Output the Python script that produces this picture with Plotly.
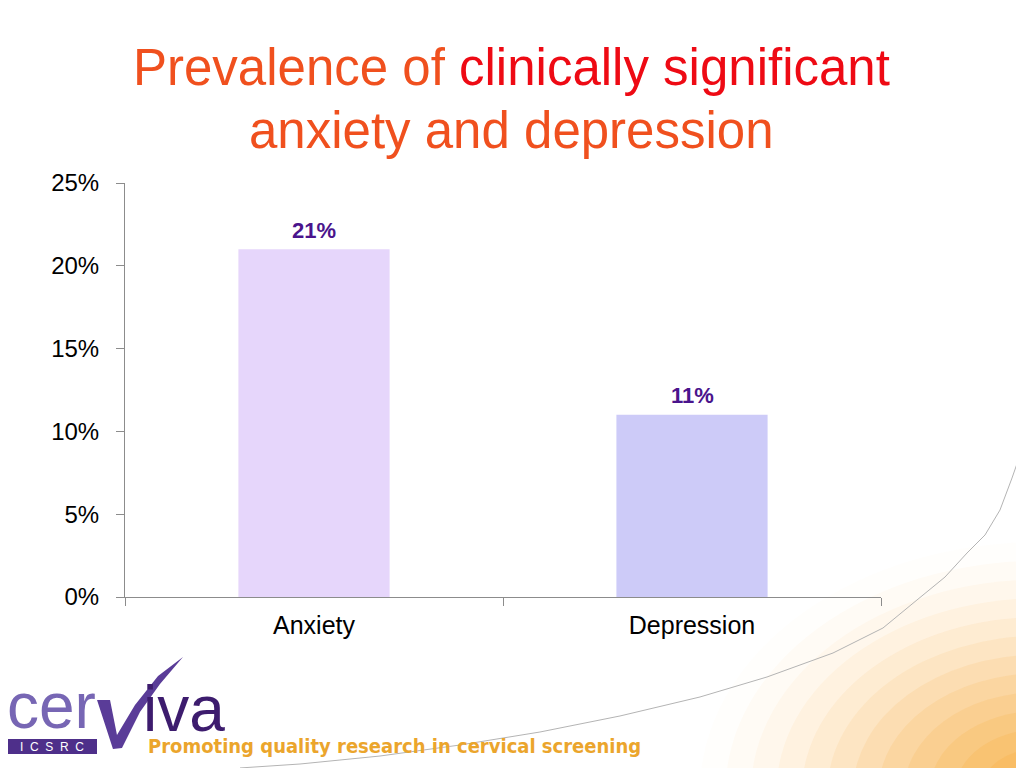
import plotly.graph_objects as go

categories = ["Anxiety", "Depression"]
prevalence = [0.21, 0.11]
bar_colors = ["#E6D6FB", "#CDCBF8"]
tick_values = [0, 0.05, 0.10, 0.15, 0.20, 0.25]

W, H = 1024, 768
OFF = 8  # the page body adds an 8px offset
L, R, T, B = 125, 881, 183, 597  # plot area in page pixels


def px(x):
    return (x - L) / (R - L)


def py(y):
    return (B - y) / (B - T)


def path(points, close=True):
    s = "M " + " L ".join(f"{px(x):.4f},{py(y):.4f}" for x, y in points)
    return s + (" Z" if close else "")


fig = go.Figure(
    go.Bar(
        x=categories,
        y=prevalence,
        marker=dict(color=bar_colors, line=dict(width=0)),
        width=0.4,
        hoverinfo="x+y",
    )
)

shapes = []
# soft orange glow in the lower right corner, built from stacked ellipses
for i in range(12):
    k = 1 - i * 0.075
    shapes.append(dict(type="circle", xref="paper", yref="paper",
                       x0=px(1040 - 340 * k), x1=px(1040 + 340 * k),
                       y0=py(792 - 250 * k), y1=py(792 + 250 * k),
                       fillcolor="#F7A52A", opacity=0.015 + 0.015 * i,
                       line=dict(width=0), layer="below"))
curve = [(1026, 438), (1012, 478), (1000, 510), (985, 535), (967, 553), (945, 577), (917, 600),
         (883, 628), (833, 653), (767, 677), (700, 697), (620, 716), (540, 732), (460, 745),
         (380, 756), (300, 764), (240, 768)]
shapes.append(dict(type="path", xref="paper", yref="paper", path=path(curve, close=False),
                   line=dict(color="#B4B4B4", width=1), layer="below"))

# logo: check mark swoosh and ICSRC box
shapes.append(dict(type="path", xref="paper", yref="paper",
                   path=path([(97, 700), (110, 700), (117, 735), (135, 705), (158, 676), (183, 657),
                              (160, 684), (140, 712), (122, 748), (113, 749)]),
                   fillcolor="#5A3C98", line=dict(width=0)))
shapes.append(dict(type="rect", xref="paper", yref="paper",
                   x0=px(8), x1=px(97), y0=py(754), y1=py(739),
                   fillcolor="#4E2F8A", line=dict(width=0)))

annotations = [
    dict(text="<span style='color:#F0501E'>Prevalence of </span>"
              "<span style='color:#EE0A14'>clinically significant</span>",
         x=px(512), y=py(67), xanchor="center", yanchor="middle",
         font=dict(family="Liberation Sans, Arial", size=51)),
    dict(text="anxiety and depression", x=px(512), y=py(130), xanchor="center", yanchor="middle",
         font=dict(family="Liberation Sans, Arial", size=51, color="#F0501E")),
    dict(text="cer", x=px(5), y=py(706), xanchor="left", yanchor="middle",
         font=dict(family="Liberation Sans, Arial", size=64, color="#7766B4")),
    dict(text="iva", x=px(141), y=py(709), xanchor="left", yanchor="middle",
         font=dict(family="Liberation Sans, Arial", size=64, color="#3D1C6E")),
    dict(text="I  C  S  R  C", x=px(52), y=py(747), xanchor="center", yanchor="middle",
         font=dict(family="Liberation Sans, Arial", size=12, color="white")),
    dict(text="<b>Promoting quality research in cervical screening</b>", x=px(146), y=py(746),
         xanchor="left", yanchor="middle",
         font=dict(family="Liberation Sans Narrow, DejaVu Sans Condensed, Arial Narrow, Arial",
                   size=20, color="#EBA52C")),
]
for a in annotations:
    a.update(xref="paper", yref="paper", showarrow=False)

# value labels above the bars
for cat, val in zip(categories, prevalence):
    annotations.append(dict(text=f"<b>{val:.0%}</b>", x=cat, y=val, xref="x", yref="y",
                            yanchor="middle", yshift=19, showarrow=False,
                            font=dict(family="Liberation Sans, Arial", size=22, color="#4A148C")))

fig.update_layout(
    width=W,
    height=H,
    margin=dict(l=L - OFF, r=W - R + OFF, t=T - OFF, b=H - B + OFF, pad=0),
    plot_bgcolor="rgba(0,0,0,0)",
    paper_bgcolor="white",
    showlegend=False,
    font=dict(family="Liberation Sans, Arial", size=25, color="black"),
    shapes=shapes,
    annotations=annotations,
)
fig.update_yaxes(
    range=[0, 0.25], tickvals=tick_values, tickformat=".0%",
    showgrid=False, zeroline=False, showline=True, linecolor="#8C8C8C", linewidth=1,
    ticks="outside", ticklen=8, tickcolor="#8C8C8C", tickfont=dict(size=24),
    ticklabelstandoff=12,
)
fig.update_xaxes(
    showgrid=False, showline=True, linecolor="#8C8C8C", linewidth=1,
    ticks="outside", ticklen=8, tickcolor="#8C8C8C", tickson="boundaries",
    tickfont=dict(size=25), ticklabelstandoff=6,
)

fig.write_html("out.html")
